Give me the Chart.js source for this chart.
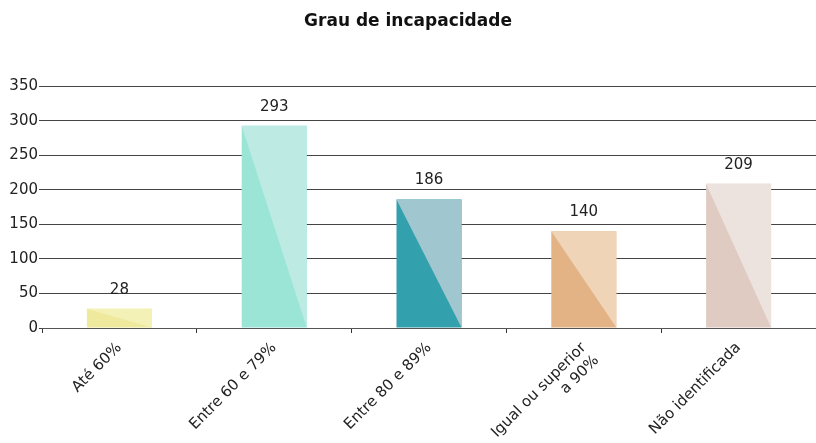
<!DOCTYPE html>
<html lang="pt">
<head>
<meta charset="utf-8">
<title>Grau de incapacidade</title>
<script src="https://cdn.jsdelivr.net/npm/chart.js@4.4.1/dist/chart.umd.min.js"></script>
<style>
    html, body { margin: 0; padding: 0; background: #fff; }
    #wrap { width: 816px; height: 443px; }
</style>
</head>
<body>
<div id="wrap"><canvas id="grauChart"></canvas></div>
<script>
// Categorias e valores
const categories = ['Até 60%', 'Entre 60 e 79%', 'Entre 80 e 89%', ['Igual ou superior', 'a 90%'], 'Não identificada'];
const counts = [28, 293, 186, 140, 209];
const yMax = 350;
const yStep = 50;

// Cada barra tem dois tons: triângulo inferior escuro, superior claro
const darkTones = ['#efe99d', '#9be5d7', '#33a0ae', '#e3b386', '#e0cbc3'];
const lightTones = ['#f4f1b6', '#bdebe4', '#a0c7cf', '#efd4b8', '#ede3de'];

const FONT = "'DejaVu Sans', sans-serif";

// Pinta o triângulo claro por cima de cada barra
const splitBars = {
    id: 'splitBars',
    afterDatasetDraw(chart, args) {
        const ctx = chart.ctx;
        args.meta.data.forEach((bar, i) => {
            const { x, y, base, width } = bar.getProps(['x', 'y', 'base', 'width'], true);
            const left = x - width / 2;
            const right = x + width / 2;
            ctx.save();
            ctx.fillStyle = lightTones[i];
            ctx.beginPath();
            ctx.moveTo(left, y);
            ctx.lineTo(right, y);
            ctx.lineTo(right, base);
            ctx.closePath();
            ctx.fill();
            ctx.restore();
        });
    }
};

// Valor escrito acima de cada barra
const valueLabels = {
    id: 'valueLabels',
    afterDatasetsDraw(chart) {
        const ctx = chart.ctx;
        const meta = chart.getDatasetMeta(0);
        ctx.save();
        ctx.font = '15px ' + FONT;
        ctx.fillStyle = '#222';
        ctx.textAlign = 'center';
        ctx.textBaseline = 'middle';
        meta.data.forEach((bar, i) => {
            ctx.fillText(String(counts[i]), bar.x, bar.y - 19);
        });
        ctx.restore();
    }
};

new Chart(document.getElementById('grauChart'), {
    type: 'bar',
    data: {
        labels: categories,
        datasets: [{
            data: counts,
            backgroundColor: darkTones,
            borderWidth: 0,
            categoryPercentage: 1,
            barPercentage: 0.42
        }]
    },
    options: {
        responsive: true,
        maintainAspectRatio: false,
        animation: false,
        layout: { padding: { left: 0, right: 0, top: 0, bottom: 0 } },
        plugins: {
            legend: { display: false },
            tooltip: { enabled: false },
            title: {
                display: true,
                text: 'Grau de incapacidade',
                color: '#111',
                font: { family: FONT, size: 17, weight: 'bold' },
                padding: { top: 11, bottom: 55 }
            }
        },
        scales: {
            x: {
                offset: true,
                grid: {
                    offset: true,
                    drawOnChartArea: false,
                    drawTicks: true,
                    tickLength: 5,
                    color: '#333'
                },
                border: { display: true, color: '#555', width: 1 },
                ticks: {
                    color: '#222',
                    font: { family: FONT, size: 15 },
                    minRotation: 45,
                    maxRotation: 45,
                    autoSkip: false,
                    padding: 6
                },
                afterFit(scale) { scale.height = 115; }
            },
            y: {
                min: 0,
                max: yMax,
                ticks: {
                    stepSize: yStep,
                    color: '#222',
                    font: { family: FONT, size: 15 },
                    padding: 1
                },
                grid: {
                    color: '#444',
                    lineWidth: 1,
                    tickLength: 3
                },
                border: { display: false },
                afterFit(scale) { scale.width = 42; }
            }
        }
    },
    plugins: [splitBars, valueLabels]
});
</script>
</body>
</html>
